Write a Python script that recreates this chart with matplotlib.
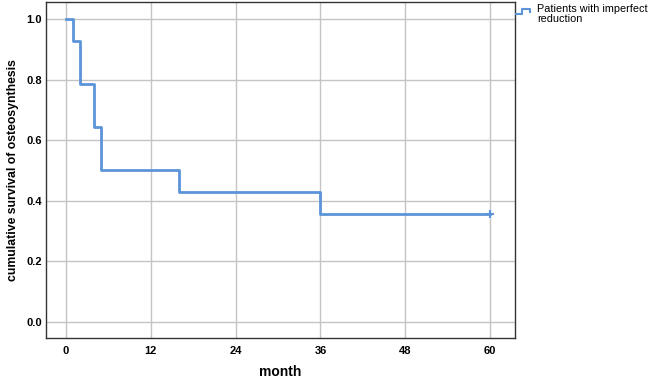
import numpy as np
import matplotlib.pyplot as plt
from matplotlib.lines import Line2D

plt.rcParams['font.family'] = ['Liberation Sans', 'DejaVu Sans']

# Kaplan-Meier steps (event times in months, survival after event)
times = [0, 1, 2, 4, 5, 16, 36, 60]
survival = [1.0, 0.929, 0.786, 0.643, 0.5, 0.429, 0.357, 0.357]
censor_t = [60]
censor_s = [0.357]

xticks = [0, 12, 24, 36, 48, 60]
yticks = [0.0, 0.2, 0.4, 0.6, 0.8, 1.0]

blue = '#5b94d8'

fig = plt.figure(figsize=(6.49, 3.8), dpi=100)
ax = fig.add_axes([0.0709, 0.1105, 0.7226, 0.8842])

ax.step(times, survival, where='post', color=blue, lw=2)
ax.plot(censor_t, censor_s, '+', color=blue, ms=6, mew=1.5)

ax.set_xlim(-2.8, 63.5)
ax.set_ylim(-0.054, 1.057)
ax.set_xticks(xticks)
ax.set_yticks(yticks)
ax.set_yticklabels(['%.1f' % v for v in yticks])
ax.grid(True, color='#c4c4c4', lw=1)
ax.set_axisbelow(True)
ax.tick_params(length=0, labelsize=8)
ax.tick_params(axis='x', pad=6)
ax.tick_params(axis='y', pad=3)
for lab in ax.get_xticklabels() + ax.get_yticklabels():
    lab.set_fontweight('bold')
for sp in ax.spines.values():
    sp.set_color('#333333')
    sp.set_linewidth(1)

ax.set_xlabel('month', fontsize=10, fontweight='bold', labelpad=6)
ax.set_ylabel('cumulative survival of osteosynthesis', fontsize=8.8, fontweight='bold', labelpad=5)

# legend glyph and text outside the plot
fig.add_artist(Line2D([516/649, 522/649, 522/649, 530/649, 530/649],
                      [1-14/380, 1-14/380, 1-9/380, 1-9/380, 1-12/380],
                      color=blue, lw=1.5, transform=fig.transFigure))
fig.text(537/649, 1-4/380, 'Patients with imperfect\nreduction', fontsize=7.8,
         va='top', ha='left', linespacing=0.95)

plt.savefig('out.png', dpi=100)
